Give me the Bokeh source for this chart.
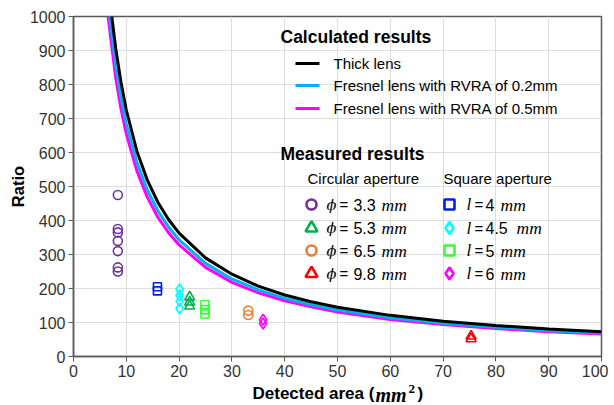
from bokeh.plotting import figure
from bokeh.models import Label, FixedTicker, Range1d
from bokeh.layouts import column
from bokeh.embed import file_html
from bokeh.resources import INLINE

# ---- calculated curves
thick_x = [7.25, 8, 9, 10, 12, 14, 16, 18, 20, 25, 30, 35, 40, 45, 50, 60, 70, 80, 90, 100]
thick_y = [1000, 906, 806, 725, 604, 518, 453, 403, 363, 290, 242, 207, 181, 161, 145, 121, 104, 91, 81, 73]
fres02_x = [6.85, 8, 9, 10, 12, 14, 16, 18, 20, 25, 30, 35, 40, 45, 50, 60, 70, 80, 90, 100]
fres02_y = [1000, 856, 761, 685, 571, 489, 428, 381, 343, 274, 228, 196, 171, 152, 137, 114, 98, 86, 76, 69]
fres05_x = [6.55, 8, 9, 10, 12, 14, 16, 18, 20, 25, 30, 35, 40, 45, 50, 60, 70, 80, 90, 100]
fres05_y = [1000, 819, 728, 655, 546, 468, 409, 364, 328, 262, 218, 187, 164, 146, 131, 109, 94, 82, 73, 66]

# ---- measured results
c33_x = [8.4] * 7
c33_y = [475, 375, 365, 340, 310, 262, 250]
c53_x = [22.0] * 3
c53_y = [175, 160, 148]
c65_x = [33.1] * 2
c65_y = [135, 122]
c98_x = [75.3] * 2
c98_y = [60, 52]
s4_x = [15.9] * 2
s4_y = [205, 193]
s45_x = [20.1] * 4
s45_y = [197, 180, 163, 141]
s5_x = [24.9] * 3
s5_y = [153, 138, 125]
s6_x = [35.9] * 2
s6_y = [108, 97]

x_ticks = list(range(0, 101, 10))
y_ticks = list(range(0, 1001, 100))

W = 608
FL, FT, FR, FB = 73, 16, 601, 356
H1 = 382
def X(px):
    return (px - FL) / (FR - FL) * 100
def Y(py):
    return (FB - py) / (FB - FT) * 1000

xr = Range1d(0, 100)
p = figure(width=W, height=H1, output_backend="svg", toolbar_location=None,
           x_range=xr, y_range=Range1d(0, 1000),
           min_border_left=FL, min_border_right=W - FR, min_border_top=FT, min_border_bottom=H1 - FB)
p.background_fill_color = "white"
p.border_fill_color = "white"
p.outline_line_color = "#595959"
p.outline_line_width = 1.5
for ax in (p.xaxis, p.yaxis):
    ax.axis_line_color = "#595959"
    ax.axis_line_width = 1.5
    ax.major_tick_line_color = "#595959"
    ax.major_tick_out = 5
    ax.major_tick_in = 0
    ax.minor_tick_line_color = None
    ax.major_label_text_font = "Liberation Sans"
    ax.major_label_text_font_size = "16px"
    ax.major_label_text_color = "#333333"
    ax.major_label_standoff = 3
p.xaxis.ticker = FixedTicker(ticks=x_ticks)
p.yaxis.ticker = FixedTicker(ticks=y_ticks)
p.yaxis.axis_label = "Ratio"
p.yaxis.axis_label_text_font = "Liberation Sans"
p.yaxis.axis_label_text_font_style = "bold"
p.yaxis.axis_label_text_font_size = "16.5px"
p.yaxis.axis_label_text_color = "black"
p.yaxis.axis_label_standoff = 0
p.grid.grid_line_color = "#DDDDDD"
p.grid.grid_line_width = 1

lw = 3
p.line(fres05_x, fres05_y, color="#FF00FF", line_width=lw)
p.line(fres02_x, fres02_y, color="#00B0F0", line_width=lw)
p.line(thick_x, thick_y, color="black", line_width=lw)

def pts(xs, ys, marker, color, size):
    p.scatter(xs, ys, marker=marker, size=size, fill_color=None, line_color=color, line_width=1.6)

pts(c33_x, c33_y, "circle", "#7030A0", 9)
pts(c53_x, c53_y, "triangle", "#00B050", 10)
pts(c65_x, c65_y, "circle", "#ED7D31", 9)
pts(c98_x, c98_y, "triangle", "#FF0000", 10)
pts(s4_x, s4_y, "square", "#0020E0", 8)
pts(s45_x, s45_y, "diamond", "#00FFFF", 11)
pts(s5_x, s5_y, "square", "#33FF33", 8)
pts(s6_x, s6_y, "diamond", "#FF00FF", 11)

def lab(fig, x, y, text, size="15px", font="Liberation Sans", style="normal", align="left", color="black"):
    fig.add_layout(Label(x=x, y=y, text=text, text_font=font, text_font_size=size,
                         text_font_style=style, text_align=align, text_baseline="middle",
                         text_color=color))

def L(px, py, text, **kw):
    lab(p, X(px), Y(py), text, **kw)

# legend: calculated
L(280, 36, "Calculated results", size="17.5px", style="bold")
for py, col, txt in [(63, "black", "Thick lens"), (85, "#00B0F0", "Fresnel lens with RVRA of 0.2mm"),
                     (108, "#FF00FF", "Fresnel lens with RVRA of 0.5mm")]:
    p.line([X(295), X(319)], [Y(py), Y(py)], color=col, line_width=3)
    L(333, py, txt)

# legend: measured
L(280, 153, "Measured results", size="17.5px", style="bold")
L(307, 178, "Circular aperture")
L(443, 178, "Square aperture")

rows = [204, 227.5, 250, 273]
circ = [("circle", "#7030A0", "3.3"), ("triangle", "#00B050", "5.3"),
        ("circle", "#ED7D31", "6.5"), ("triangle", "#FF0000", "9.8")]
sq = [("square", "#0020E0", "4"), ("diamond", "#00FFFF", "4.5"),
      ("square", "#33FF33", "5"), ("diamond", "#FF00FF", "6")]
for py, (m, c, v) in zip(rows, circ):
    p.scatter([X(311)], [Y(py)], marker=m, size=12 if m == "triangle" else 10,
              fill_color=None, line_color=c, line_width=2.6)
    L(326, py, "\u03d5", size="14.5px", font="DejaVu Serif", style="italic")
    L(339, py, "=", size="15px")
    L(364, py, v, size="16px", align="center")
    L(381, py, "mm", size="17.5px", font="Liberation Serif", style="italic")
for py, (m, c, v) in zip(rows, sq):
    p.scatter([X(449)], [Y(py)], marker=m, size=10 if m == "square" else 12,
              fill_color=None, line_color=c, line_width=2.6)
    L(466, py, "l", size="17px", font="Liberation Serif", style="italic")
    L(474, py, "=", size="15px")
    L(485, py, v, size="16px")
    L(500 if len(v) == 1 else 516, py, "mm", size="17.5px", font="Liberation Serif", style="italic")

# x-axis title in a strip below the chart
H2 = 23
q = figure(width=W, height=H2, output_backend="svg", toolbar_location=None,
           x_range=xr, y_range=Range1d(0, 1),
           min_border_left=FL, min_border_right=W - FR, min_border_top=0, min_border_bottom=0,
           x_axis_location=None, y_axis_location=None)
q.outline_line_color = None
q.grid.grid_line_color = None
q.background_fill_color = "white"
q.border_fill_color = "white"
def QY(py):
    return 1 - (py - H1) / H2
lab(q, X(252), QY(393), "Detected area (", size="17px", style="bold")
lab(q, X(375), QY(394), "mm", size="20px", font="Liberation Serif", style="bold italic")
lab(q, X(408), QY(388), "2", size="13px", font="Liberation Serif", style="bold")
lab(q, X(417), QY(393), ")", size="17px", style="bold")

open("out.html", "w").write(file_html(column(p, q), INLINE))
